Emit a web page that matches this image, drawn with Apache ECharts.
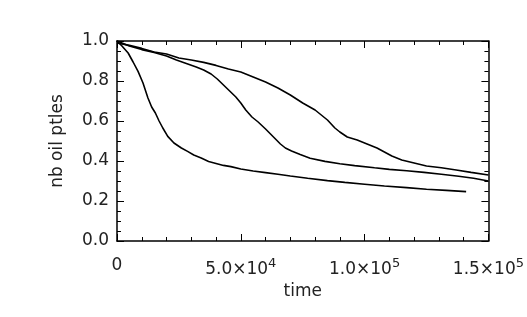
<!DOCTYPE html>
<html><head><meta charset="utf-8">
<script src="https://cdn.jsdelivr.net/npm/echarts@6/dist/echarts.min.js"></script>
<style>html,body{margin:0;padding:0;background:#fff}#c{width:527px;height:317px}</style>
</head><body><div id="c"></div>
<script>
// times in units of 1e3
const tFast = [0,2,4.5,6.5,8.5,10.5,12.5,14,15.5,17,18.5,20.5,23,26,28.5,31,34,37,40,43,46,50,55,60,65,70,77,85,92,100,108,117,125,133,141];
const vFast = [1.0,0.975,0.94,0.895,0.848,0.79,0.715,0.67,0.64,0.60,0.565,0.523,0.49,0.465,0.448,0.43,0.415,0.398,0.388,0.378,0.372,0.36,0.35,0.342,0.334,0.325,0.314,0.302,0.293,0.284,0.275,0.267,0.259,0.253,0.247];
const tMid = [0,5,10,15,20,24,28,32,35,38,40.5,43,45.5,48,50,52,54.5,57,60,62,64,66,68,70.5,74,78,84,90,96,104,110,117,124,131,138,144,150];
const vMid = [1.0,0.975,0.957,0.943,0.925,0.905,0.888,0.87,0.855,0.835,0.81,0.78,0.75,0.72,0.69,0.655,0.62,0.595,0.56,0.535,0.51,0.485,0.465,0.45,0.432,0.414,0.398,0.386,0.377,0.366,0.358,0.351,0.343,0.334,0.324,0.314,0.30];
const tSlow = [0,5,10,15,20,25,30,35,40,45,50,55,60,65,70,75,80,85,88,90,93,97,101,105,108,111,115,120,125,131,137,143,150];
const vSlow = [0.99,0.978,0.963,0.945,0.935,0.915,0.905,0.893,0.878,0.86,0.845,0.82,0.795,0.765,0.73,0.69,0.655,0.605,0.565,0.545,0.52,0.505,0.485,0.465,0.445,0.425,0.405,0.39,0.375,0.366,0.355,0.343,0.33];
const xTicks = [0, 50000, 100000, 150000];
const yTicks = [0, 0.2, 0.4, 0.6, 0.8, 1.0];

const pairs = (t, v) => t.map((x, i) => [x * 1000, v[i]]);
const FONT = 'DejaVu Sans';
const TXT = '#222';
const FS = 17;
function xFmt(val) {
  if (val === 0) return '0';
  const e = Math.floor(Math.log10(val));
  const m = val / Math.pow(10, e);
  return m.toFixed(1) + '×10{s|' + e + '}';
}
const axisLine = { show: true, onZero: false, lineStyle: { color: '#000', width: 1.5 } };
const tick = { show: true, inside: true, length: 7, lineStyle: { color: '#000', width: 1 } };
const chart = echarts.init(document.getElementById('c'), null, { renderer: 'canvas' });
chart.setOption({
  animation: false,
  backgroundColor: '#fff',
  grid: { left: 117, right: 36, top: 41, bottom: 76 },
  xAxis: [{
    type: 'value', min: 0, max: 150000, interval: 50000, position: 'bottom',
    name: 'time', nameLocation: 'middle', nameGap: 41,
    nameTextStyle: { fontFamily: FONT, fontSize: FS, color: TXT },
    axisLine: axisLine, axisTick: tick,
    minorTick: { show: true, splitNumber: 5, length: 4, lineStyle: { color: '#000', width: 1 } },
    splitLine: { show: false },
    axisLabel: {
      margin: 16, fontFamily: FONT, fontSize: FS, color: TXT,
      formatter: xFmt,
      rich: { s: { fontFamily: FONT, fontSize: 13, color: TXT, padding: [0, 0, 12, 0] } }
    }
  }, {
    type: 'value', min: 0, max: 150000, interval: 50000, position: 'top',
    axisLine: axisLine, axisTick: tick,
    minorTick: { show: true, splitNumber: 5, length: 4, lineStyle: { color: '#000', width: 1 } },
    splitLine: { show: false }, axisLabel: { show: false }
  }],
  yAxis: [{
    type: 'value', min: 0, max: 1, interval: 0.2, position: 'left',
    name: 'nb oil ptles', nameLocation: 'middle', nameGap: 51, nameRotate: 90,
    nameTextStyle: { fontFamily: FONT, fontSize: FS, color: TXT },
    axisLine: axisLine, axisTick: tick,
    minorTick: { show: true, splitNumber: 4, length: 4, lineStyle: { color: '#000', width: 1 } },
    splitLine: { show: false },
    axisLabel: { margin: 8, fontFamily: FONT, fontSize: FS, color: TXT, formatter: v => v.toFixed(1) }
  }, {
    type: 'value', min: 0, max: 1, interval: 0.2, position: 'right',
    axisLine: axisLine, axisTick: tick,
    minorTick: { show: true, splitNumber: 4, length: 4, lineStyle: { color: '#000', width: 1 } },
    splitLine: { show: false }, axisLabel: { show: false }
  }],
  series: [
    { type: 'line', data: pairs(tFast, vFast), showSymbol: false, symbol: 'none', lineStyle: { color: '#000', width: 1.6 } },
    { type: 'line', data: pairs(tMid, vMid), showSymbol: false, symbol: 'none', lineStyle: { color: '#000', width: 1.6 } },
    { type: 'line', data: pairs(tSlow, vSlow), showSymbol: false, symbol: 'none', lineStyle: { color: '#000', width: 1.6 } }
  ]
});
</script></body></html>
